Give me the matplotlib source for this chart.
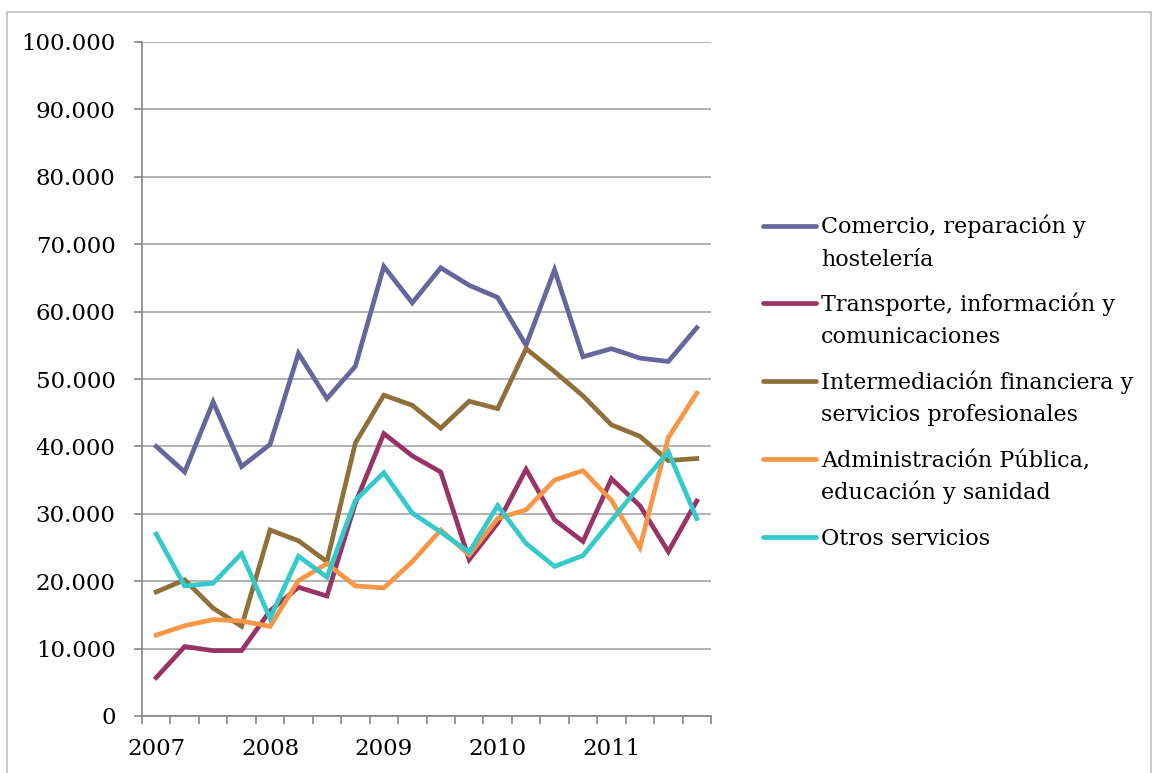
import numpy as np
import matplotlib
matplotlib.use('Agg')
import matplotlib.pyplot as plt
from matplotlib.patches import Rectangle
from matplotlib.lines import Line2D
from matplotlib.ticker import FuncFormatter, FixedLocator

plt.rcParams.update({'font.size': 16.5, 'font.family': 'DejaVu Serif'})

years = ['2007', '2008', '2009', '2010', '2011']

comercio = [40000, 36200, 46600, 37000, 40300, 53800, 47100, 51900, 66700, 61300,
            66500, 63900, 62100, 55000, 66200, 53300, 54500, 53100, 52600, 57600]
transporte = [5700, 10300, 9700, 9700, 15600, 19100, 17800, 31600, 41900, 38600,
              36200, 23200, 28600, 36600, 29100, 25900, 35200, 31200, 24400, 31900]
intermediacion = [18400, 20200, 16000, 13300, 27600, 26000, 22900, 40500, 47600, 46100,
                  42700, 46700, 45600, 54500, 51100, 47500, 43200, 41500, 37900, 38200]
administracion = [12000, 13400, 14300, 14100, 13300, 20100, 22600, 19300, 19000, 22900,
                  27600, 23900, 29300, 30600, 35000, 36400, 32000, 25000, 41300, 47900]
otros = [27000, 19300, 19700, 24100, 14500, 23700, 20600, 32000, 36100, 30100,
         27300, 24300, 31200, 25600, 22200, 23800, 29000, 34200, 39200, 29300]

series = [
    ('Comercio, reparación y\nhostelería', comercio, '#66669C'),
    ('Transporte, información y\ncomunicaciones', transporte, '#9A3365'),
    ('Intermediación financiera y\nservicios profesionales', intermediacion, '#8F703A'),
    ('Administración Pública,\neducación y sanidad', administracion, '#F79646'),
    ('Otros servicios', otros, '#34C9CA'),
]

W, H = 1154, 773
fig = plt.figure(figsize=(W / 100, H / 100), dpi=100)
ax = fig.add_axes([142 / W, 1 - 716 / H, (711 - 142) / W, (716 - 42) / H])

# outer chart border
fig.patches.append(Rectangle((7 / W, -0.05), (1151 - 7) / W, 1 - 12 / H + 0.05,
                             transform=fig.transFigure, fill=False,
                             edgecolor='#BFBFBF', linewidth=1.2))

x = np.arange(len(comercio))
for label, vals, color in series:
    ax.plot(x, vals, color=color, linewidth=3.4, label=label,
            solid_joinstyle='miter')

ax.set_xlim(-0.5, len(x) - 0.5)
ax.set_ylim(0, 100000)
ax.yaxis.set_major_locator(FixedLocator(np.arange(0, 100001, 10000)))
ax.yaxis.set_major_formatter(FuncFormatter(lambda v, p: f'{v:,.0f}'.replace(',', '.')))
ax.set_xticks(np.arange(0, len(x), 4))
ax.set_xticklabels(years)
ax.set_xticks(np.arange(-0.5, len(x), 1), minor=True)

ax.grid(axis='y', color='#A6A6A6', linewidth=1.2)
ax.set_axisbelow(True)
for side in ['top', 'right']:
    ax.spines[side].set_visible(False)
for side in ['left', 'bottom']:
    ax.spines[side].set_color('#868686')
    ax.spines[side].set_linewidth(1.2)

ax.tick_params(axis='y', length=6, width=1.2, color='#868686', pad=13)
ax.tick_params(axis='x', which='major', length=0, pad=16)
ax.tick_params(axis='x', which='minor', length=6, width=1.2, color='#868686')

# legend: handle aligned with the first text line, as in the original
y0, step = 225.5, 77.9
for i, (label, vals, color) in enumerate(series):
    yh = y0 + step * i
    fig.add_artist(Line2D([763 / W, 816 / W], [1 - yh / H, 1 - yh / H],
                          color=color, linewidth=3.4, solid_capstyle='round'))
    for j, line in enumerate(label.split('\n')):
        fig.text(821 / W, 1 - (yh + 8 + 32 * j) / H, line, fontsize=16,
                 ha='left', va='baseline')

fig.savefig('out.png', dpi=100)
